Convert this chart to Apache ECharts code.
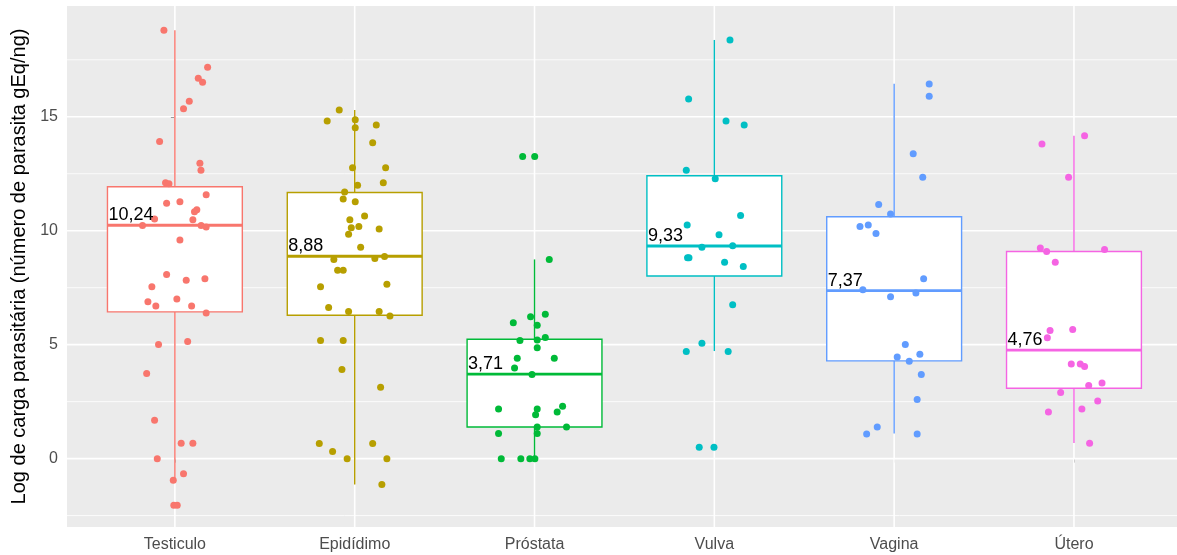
<!DOCTYPE html>
<html>
<head>
<meta charset="utf-8">
<script src="https://cdn.jsdelivr.net/npm/echarts@6/dist/echarts.min.js"></script>
<style>
  html, body { margin: 0; padding: 0; background: #fff; }
  #chart { width: 1177px; height: 555px; }
</style>
</head>
<body>
<div id="chart"></div>
<script>
// Tissues (x categories) and their fill/outline colours
const categories = ['Testiculo', 'Epidídimo', 'Próstata', 'Vulva', 'Vagina', 'Útero'];
const colors = ['#F8766D', '#B79F00', '#00BA38', '#00BFC4', '#619CFF', '#F564E3'];

// Box-plot summaries per tissue
const whiskerLow  = [-0.95, -1.13, 0.00, 4.72, 1.10, 0.69];
const q1          = [6.44, 6.29, 1.39, 8.01, 4.29, 3.09];
const medians     = [10.24, 8.88, 3.71, 9.33, 7.37, 4.76];
const q3          = [11.93, 11.68, 5.24, 12.41, 10.61, 9.09];
const whiskerHigh = [18.80, 15.30, 8.74, 18.37, 16.45, 14.17];

// Individual samples (log parasite load) and their horizontal jitter
const testiculoValues = [18.80, 17.17, 16.69, 16.51, 15.68, 15.35, 13.92, 12.96, 12.65, 12.10, 12.06, 11.58, 11.21, 11.27, 10.92, 10.83, 10.51, 10.48, 10.23, 10.23, 10.16, 9.59, 8.08, 7.83, 7.89, 7.54, 6.88, 7.00, 6.70, 6.70, 6.39, 5.01, 5.14, 3.73, 1.68, 0.67, 0.67, 0.00, -0.66, -0.95, -2.05, -2.05];
const testiculoJitter = [-0.061, 0.182, 0.130, 0.154, 0.080, 0.048, -0.085, 0.139, 0.145, -0.052, -0.033, 0.174, -0.046, 0.028, 0.122, 0.109, -0.113, 0.100, -0.180, 0.146, 0.174, 0.028, -0.046, 0.063, 0.167, -0.128, -0.150, 0.011, -0.106, 0.093, 0.174, -0.091, 0.071, -0.157, -0.113, 0.035, 0.100, -0.098, 0.048, -0.009, -0.006, 0.013];

const epididimoValues = [15.30, 14.81, 14.87, 14.52, 14.64, 13.86, 12.76, 12.76, 12.10, 11.99, 11.70, 11.39, 11.27, 10.65, 10.48, 10.13, 10.19, 10.07, 9.84, 9.28, 8.74, 8.78, 8.87, 8.26, 8.26, 7.54, 7.65, 6.63, 6.46, 6.46, 6.26, 5.18, 5.18, 3.91, 3.13, 0.66, 0.66, 0.31, 0.00, 0.00, -1.13];
const epididimoJitter = [-0.086, -0.153, 0.003, 0.003, 0.120, 0.100, -0.012, 0.172, 0.159, 0.016, -0.056, -0.064, 0.003, 0.055, -0.027, -0.019, 0.023, 0.136, -0.034, 0.033, -0.116, 0.112, 0.166, -0.095, -0.064, -0.190, 0.179, -0.145, -0.034, 0.136, 0.196, -0.190, -0.064, -0.071, 0.144, -0.197, 0.100, -0.123, -0.042, 0.179, 0.151];

const prostataValues = [13.26, 13.26, 8.74, 6.34, 6.22, 5.96, 5.85, 5.31, 5.18, 5.20, 4.87, 4.40, 4.40, 3.98, 3.69, 2.18, 2.18, 1.93, 2.30, 2.05, 1.39, 1.39, 1.10, 1.10, 0.00, 0.00, 0.00, 0.00];
const prostataJitter = [-0.066, 0.001, 0.082, 0.060, -0.022, -0.118, 0.015, 0.060, -0.081, 0.015, 0.015, -0.096, 0.110, -0.111, -0.014, -0.200, 0.015, 0.006, 0.156, 0.126, 0.178, 0.015, 0.015, -0.200, -0.185, -0.076, -0.026, 0.002];

const vulvaValues = [18.37, 15.78, 14.81, 14.64, 12.65, 12.28, 10.67, 10.25, 9.82, 9.27, 9.34, 8.81, 8.81, 8.62, 8.43, 6.75, 5.06, 4.70, 4.70, 0.50, 0.50];
const vulvaJitter = [0.087, -0.143, 0.065, 0.166, -0.156, 0.005, 0.146, -0.151, 0.026, -0.069, 0.102, -0.149, -0.141, 0.057, 0.161, 0.102, -0.069, -0.156, 0.077, -0.084, -0.002];

const vaginaValues = [16.44, 15.90, 13.38, 12.35, 11.15, 10.73, 10.19, 10.25, 9.88, 7.89, 7.41, 7.27, 7.10, 5.01, 4.58, 4.46, 4.27, 3.69, 2.59, 1.39, 1.08, 1.08];
const vaginaJitter = [0.195, 0.195, 0.106, 0.159, -0.086, -0.020, -0.190, -0.144, -0.101, 0.164, -0.174, 0.121, -0.020, 0.062, 0.143, 0.017, 0.084, 0.151, 0.128, -0.094, -0.153, 0.128];

const uteroValues = [14.17, 13.80, 12.35, 9.24, 9.09, 9.18, 8.62, 5.62, 5.67, 5.30, 4.15, 4.15, 4.04, 3.21, 3.32, 2.90, 2.53, 2.05, 2.18, 0.67];
const uteroJitter = [0.059, -0.178, -0.030, -0.187, -0.152, 0.170, -0.104, -0.133, -0.007, -0.148, -0.015, 0.035, 0.059, 0.082, 0.156, -0.074, 0.132, -0.142, 0.044, 0.087];

const groupValues = [testiculoValues, epididimoValues, prostataValues, vulvaValues, vaginaValues, uteroValues];
const groupJitter = [testiculoJitter, epididimoJitter, prostataJitter, vulvaJitter, vaginaJitter, uteroJitter];

// Axis ticks
const yMajorTicks = [0, 5, 10, 15];
const yMinorTicks = [-2.5, 2.5, 7.5, 12.5, 17.5];
const xTicks = [0, 1, 2, 3, 4, 5];

const yTitle = 'Log de carga parasitária (número de parasita gEq/ng)';
const FONT = '"Liberation Sans", Arial, sans-serif';
const BOX_WIDTH = 0.75;

const chart = echarts.init(document.getElementById('chart'), null, { renderer: 'canvas' });

// Panel grid lines drawn across the whole plotting area
function hLine(width) {
  return function (params, api) {
    const cs = params.coordSys;
    const y = api.coord([0, api.value(1)])[1];
    return { type: 'line', shape: { x1: cs.x, y1: y, x2: cs.x + cs.width, y2: y },
             style: { stroke: '#FFFFFF', lineWidth: width } };
  };
}
function vLine(width) {
  return function (params, api) {
    const cs = params.coordSys;
    const x = api.coord([api.value(0), 0])[0];
    return { type: 'line', shape: { x1: x, y1: cs.y, x2: x, y2: cs.y + cs.height },
             style: { stroke: '#FFFFFF', lineWidth: width } };
  };
}

const boxData = categories.map((c, i) => [i, whiskerLow[i], q1[i], medians[i], q3[i], whiskerHigh[i]]);

function renderBox(params, api) {
  const i = api.value(0);
  const lo = api.value(1), a = api.value(2), m = api.value(3), b = api.value(4), hi = api.value(5);
  const half = BOX_WIDTH / 2;
  const color = colors[params.dataIndex];
  const tl = api.coord([i - half, b]);
  const br = api.coord([i + half, a]);
  const mL = api.coord([i - half, m]);
  const mR = api.coord([i + half, m]);
  const pHi = api.coord([i, hi]);
  const pLo = api.coord([i, lo]);
  const pB = api.coord([i, b]);
  const pA = api.coord([i, a]);
  return {
    type: 'group',
    children: [
      { type: 'line', shape: { x1: pHi[0], y1: pHi[1], x2: pB[0], y2: pB[1] }, style: { stroke: color, lineWidth: 1.4 } },
      { type: 'line', shape: { x1: pA[0], y1: pA[1], x2: pLo[0], y2: pLo[1] }, style: { stroke: color, lineWidth: 1.4 } },
      { type: 'rect', shape: { x: tl[0], y: tl[1], width: br[0] - tl[0], height: br[1] - tl[1] },
        style: { fill: '#FFFFFF', stroke: color, lineWidth: 1.4 } },
      { type: 'line', shape: { x1: mL[0], y1: mL[1], x2: mR[0], y2: mR[1] }, style: { stroke: color, lineWidth: 2.8 } }
    ]
  };
}

function renderMedianLabel(params, api) {
  const i = api.value(0);
  const m = api.value(1);
  const p = api.coord([i - BOX_WIDTH / 2, m]);
  return {
    type: 'text',
    x: p[0] + 1,
    y: p[1] - 1,
    style: {
      text: m.toFixed(2).replace('.', ','),
      align: 'left',
      verticalAlign: 'bottom',
      fill: '#000000',
      fontSize: 18,
      fontFamily: FONT
    }
  };
}

const series = [
  { type: 'custom', name: 'minorH', z: 1, silent: true, renderItem: hLine(0.8), data: yMinorTicks.map(v => [0, v]) },
  { type: 'custom', name: 'majorH', z: 1, silent: true, renderItem: hLine(1.6), data: yMajorTicks.map(v => [0, v]) },
  { type: 'custom', name: 'majorV', z: 1, silent: true, renderItem: vLine(1.6), data: xTicks.map(v => [v, 0]) },
  { type: 'custom', name: 'boxes', z: 2, silent: true, renderItem: renderBox, data: boxData,
    encode: { x: 0, y: [1, 2, 3, 4, 5] } }
];

categories.forEach((c, i) => {
  series.push({
    type: 'scatter',
    name: c,
    z: 3,
    silent: true,
    clip: false,
    symbol: 'circle',
    symbolSize: 7,
    itemStyle: { color: colors[i], opacity: 1 },
    data: groupValues[i].map((v, k) => [i + groupJitter[i][k], v])
  });
});

series.push({
  type: 'custom', name: 'medianLabels', z: 4, silent: true,
  renderItem: renderMedianLabel,
  data: categories.map((c, i) => [i, medians[i]])
});

const option = {
  animation: false,
  backgroundColor: '#FFFFFF',
  grid: { left: 67, top: 6, width: 1110, height: 521, show: true, backgroundColor: '#EBEBEB', borderWidth: 0 },
  xAxis: {
    type: 'value',
    min: -0.6,
    max: 5.573,
    axisLine: { show: false },
    splitLine: { show: false },
    axisTick: { show: true, customValues: xTicks, length: 4, lineStyle: { color: '#333333', width: 1 } },
    axisLabel: {
      customValues: xTicks,
      formatter: v => categories[Math.round(v)],
      color: '#4D4D4D',
      fontSize: 16,
      fontFamily: FONT,
      margin: 10
    }
  },
  yAxis: {
    type: 'value',
    min: -3.0,
    max: 19.86,
    axisLine: { show: false },
    splitLine: { show: false },
    axisTick: { show: true, customValues: yMajorTicks, length: 4, lineStyle: { color: '#333333', width: 1 } },
    axisLabel: {
      customValues: yMajorTicks,
      color: '#4D4D4D',
      fontSize: 16,
      fontFamily: FONT,
      margin: 9
    },
    name: yTitle,
    nameLocation: 'middle',
    nameGap: 37,
    nameTextStyle: { color: '#000000', fontSize: 20, fontFamily: FONT }
  },
  series: series
};

chart.setOption(option);
</script>
</body>
</html>
